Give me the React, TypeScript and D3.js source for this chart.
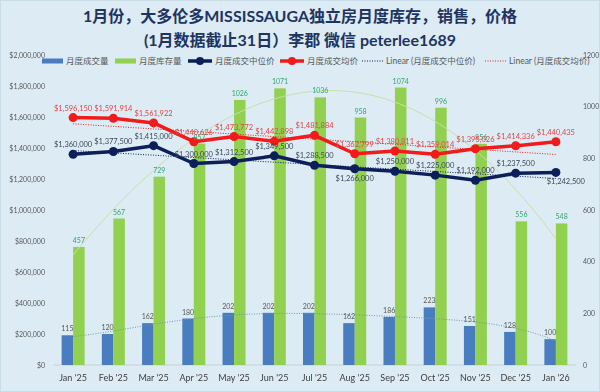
import React from 'react';
import * as d3 from 'd3';

// data
const months = ["Jan '25", "Feb '25", "Mar '25", "Apr '25", "May '25", "Jun '25", "Jul '25", "Aug '25", "Sep '25", "Oct '25", "Nov '25", "Dec '25", "Jan '26"];
const sales = [115, 120, 162, 180, 202, 202, 202, 162, 186, 223, 151, 128, 100];
const inventory = [457, 567, 729, 857, 1026, 1071, 1036, 958, 1074, 996, 856, 556, 548];
const medianPrice = [1360000, 1377500, 1415000, 1300000, 1312500, 1349500, 1288500, 1266000, 1250000, 1225000, 1192000, 1237500, 1242500];
const avgPrice = [1596150, 1591914, 1561922, 1440626, 1473772, 1442898, 1481884, 1362799, 1380811, 1359014, 1395026, 1414336, 1440435];
const priceTicks = [0, 200000, 400000, 600000, 800000, 1000000, 1200000, 1400000, 1600000, 1800000, 2000000];
const countTicks = [0, 200, 400, 600, 800, 1000, 1200];
const medianBelow = [7, 12]; // label indexes placed under the point

const W = 600, H = 392;
const left = 53, right = 576, top = 55, bottom = 365;
const FONT = "Lato, 'Noto Sans CJK SC', sans-serif";

// least squares polynomial fit, like an Excel trendline
function polyFit(ys: number[], degree: number) {
  const n = degree + 1;
  const A: number[][] = Array.from({ length: n }, () => new Array(n + 1).fill(0));
  ys.forEach((y, i) => {
    const x = i + 1;
    for (let r = 0; r < n; r++) {
      for (let c = 0; c < n; c++) A[r][c] += Math.pow(x, r + c);
      A[r][n] += y * Math.pow(x, r);
    }
  });
  for (let p = 0; p < n; p++) {
    let best = p;
    for (let r = p + 1; r < n; r++) if (Math.abs(A[r][p]) > Math.abs(A[best][p])) best = r;
    [A[p], A[best]] = [A[best], A[p]];
    for (let r = 0; r < n; r++) {
      if (r === p) continue;
      const f = A[r][p] / A[p][p];
      for (let c = p; c <= n; c++) A[r][c] -= f * A[p][c];
    }
  }
  const coef = A.map((row, i) => row[n] / row[i]);
  return (x: number) => coef.reduce((s, k, i) => s + k * Math.pow(x, i), 0);
}

const App = () => {
  const x = d3.scaleBand<string>().domain(months).range([left, right]);
  const cx = (i: number) => (x(months[i]) as number) + x.bandwidth() / 2;
  const yL = d3.scaleLinear().domain([0, 2000000]).range([bottom, top]);
  const yR = d3.scaleLinear().domain([0, 1200]).range([bottom, top]);
  const barW = 11.5;
  const money = d3.format('$,');

  const line = (vals: number[]) => d3.line<number>().x((_, i) => cx(i)).y(v => yL(v))(vals) as string;

  // trendlines
  const samples = d3.range(1, 13.001, 0.1);
  const xPos = d3.scaleLinear().domain([1, 13]).range([cx(0), cx(12)]);
  const trend = (f: (v: number) => number, y: d3.ScaleLinear<number, number>) =>
    d3.line<number>().x(t => xPos(t)).y(t => y(f(t))).curve(d3.curveMonotoneX)(samples) as string;
  const invFit = polyFit(inventory, 3);
  const salesFit = polyFit(sales, 5);
  const medFit = polyFit(medianPrice, 1);
  const avgFit = polyFit(avgPrice, 1);

  const navy = '#0d1f5a', red = '#f01b1b', blue = '#4a7cc0', green = '#92d050';

  const legend = [
    { kind: 'rect', color: blue, label: '月度成交量', x: 42 },
    { kind: 'rect', color: green, label: '月度库存量', x: 115 },
    { kind: 'line', color: navy, label: '月度成交中位价', x: 188 },
    { kind: 'line', color: red, label: '月度成交均价', x: 280 },
    { kind: 'dot', color: navy, label: 'Linear (月度成交中位价)', x: 362 },
    { kind: 'dot', color: red, label: 'Linear (月度成交均价)', x: 485 },
  ];

  return (
    <svg width={W} height={H} style={{ position: 'fixed', left: 0, top: 0 }} fontFamily={FONT}>
      <rect x={0.5} y={0.5} width={W - 1} height={H - 1} fill="#dcebf4" stroke="#c9dde9" />

      <text x={W / 2} y={22} textAnchor="middle" fontSize={16} fontWeight="bold" fill="#1f3461">1月份，大多伦多MISSISSAUGA独立房月度库存，销售，价格</text>
      <text x={W / 2} y={46} textAnchor="middle" fontSize={16} fontWeight="bold" fill="#1f3461">(1月数据截止31日）李郡 微信 peterlee1689</text>

      {/* legend */}
      {legend.map(d => (
        <g key={d.label} transform={`translate(${d.x},61)`}>
          {d.kind === 'rect' && <rect x={0} y={-2.5} width={21} height={5} fill={d.color} />}
          {d.kind === 'line' && (
            <g>
              <line x1={0} x2={24} y1={0} y2={0} stroke={d.color} strokeWidth={3.5} />
              <circle cx={12} cy={0} r={4} fill={d.color} />
            </g>
          )}
          {d.kind === 'dot' && <line x1={0} x2={21} y1={0} y2={0} stroke={d.color} strokeWidth={1} strokeDasharray="1,1.5" />}
          <text x={d.kind === 'line' ? 27 : 24} y={3} fontSize={8.5} fill="#595959">{d.label}</text>
        </g>
      ))}

      {/* axes */}
      {priceTicks.map(t => (
        <text key={t} x={45} y={yL(t) + 2.5} textAnchor="end" fontSize={7} fill="#595959">{money(t)}</text>
      ))}
      {countTicks.map(t => (
        <text key={t} x={583} y={yR(t) + 2.5} fontSize={7} fill="#595959">{t}</text>
      ))}
      <line x1={left} x2={right} y1={bottom} y2={bottom} stroke="#c8d2d8" />
      {months.map((m, i) => (
        <text key={m} x={cx(i)} y={381} textAnchor="middle" fontSize={9} fill="#404040">{m}</text>
      ))}

      {/* bars */}
      {sales.map((v, i) => (
        <rect key={'s' + i} x={cx(i) - barW} y={yR(v)} width={barW} height={bottom - yR(v)} fill={blue} />
      ))}
      {inventory.map((v, i) => (
        <rect key={'g' + i} x={cx(i)} y={yR(v)} width={barW} height={bottom - yR(v)} fill={green} />
      ))}

      {/* trendlines */}
      <path d={trend(invFit, yR)} fill="none" stroke="#c4e0a8" strokeWidth={1} />
      <path d={trend(salesFit, yR)} fill="none" stroke="#6f98a8" strokeWidth={1} strokeDasharray="1,1.5" />
      <path d={trend(medFit, yL)} fill="none" stroke={navy} strokeWidth={1} strokeDasharray="1,1.5" />
      <path d={trend(avgFit, yL)} fill="none" stroke={red} strokeWidth={1} strokeDasharray="1,1.5" />

      {/* price lines */}
      <path d={line(avgPrice)} fill="none" stroke={red} strokeWidth={3.5} strokeLinejoin="round" />
      {avgPrice.map((v, i) => <circle key={'a' + i} cx={cx(i)} cy={yL(v)} r={4.5} fill={red} />)}
      <path d={line(medianPrice)} fill="none" stroke={navy} strokeWidth={3.5} strokeLinejoin="round" />
      {medianPrice.map((v, i) => <circle key={'m' + i} cx={cx(i)} cy={yL(v)} r={4.5} fill={navy} />)}

      {/* data labels */}
      {sales.map((v, i) => (
        <text key={'sl' + i} x={cx(i) - barW / 2} y={yR(v) - 4} textAnchor="middle" fontSize={7} fill="#595959">{v}</text>
      ))}
      {inventory.map((v, i) => (
        <text key={'gl' + i} x={cx(i) + barW / 2} y={yR(v) - 4} textAnchor="middle" fontSize={7} fill="#2fa86e">{v}</text>
      ))}
      {avgPrice.map((v, i) => (
        <text key={'al' + i} x={cx(i)} y={yL(v) - 7} textAnchor="middle" fontSize={7.5} fill="#e2454a">{money(v)}</text>
      ))}
      {medianPrice.map((v, i) => {
        const below = medianBelow.includes(i);
        return (
          <text key={'ml' + i} x={cx(i) + (i === 12 ? 10 : 0)} y={below ? yL(v) + 12 : yL(v) - 7} textAnchor="middle" fontSize={7.5} fill="#3d4a5c">{money(v)}</text>
        );
      })}
    </svg>
  );
};

export default App;
